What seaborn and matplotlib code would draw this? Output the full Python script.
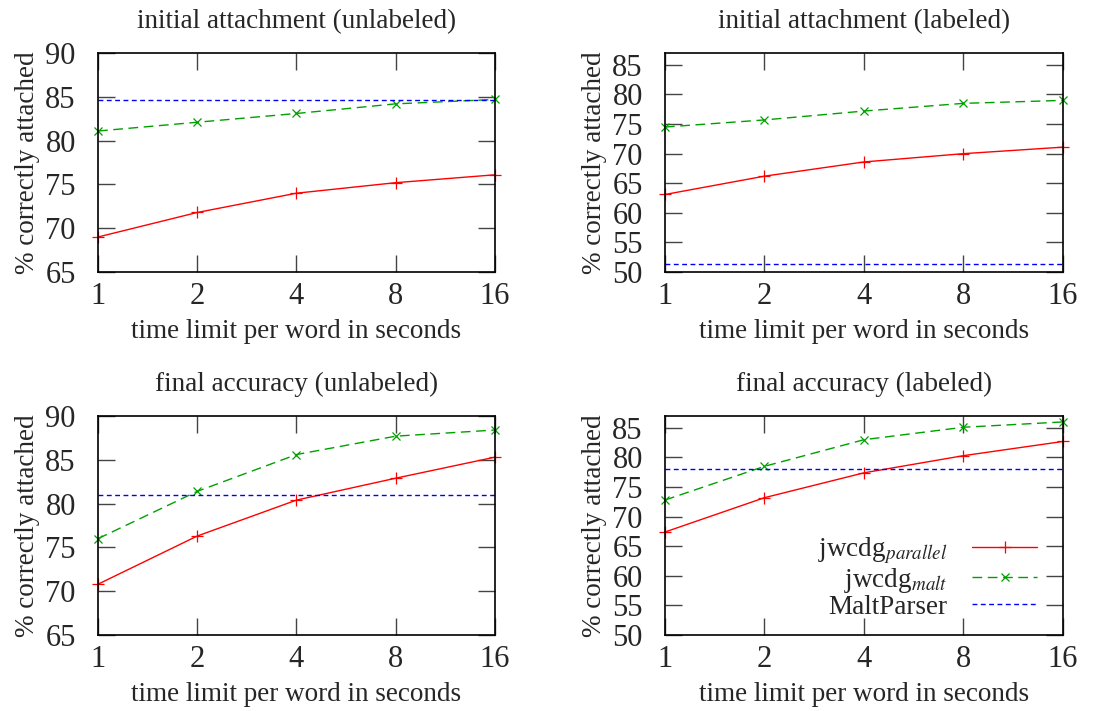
"""
Attachment accuracy vs. time limit per word: jwcdg variants against MaltParser.
"""

import matplotlib
matplotlib.use("Agg")
import matplotlib.pyplot as plt
import matplotlib.ticker as mticker
import pandas as pd
import seaborn as sns

TIME_LIMITS = [1, 2, 4, 8, 16]

PANEL_TITLES = [
    "initial attachment (unlabeled)",
    "initial attachment (labeled)",
    "final accuracy (unlabeled)",
    "final accuracy (labeled)",
]

PARALLEL = [
    [69.0, 71.8, 74.0, 75.2, 76.1],
    [63.1, 66.2, 68.6, 70.0, 71.1],
    [70.8, 76.3, 80.4, 82.9, 85.3],
    [67.4, 73.2, 77.4, 80.3, 82.7],
]
MALT = [
    [81.1, 82.1, 83.1, 84.2, 84.7],
    [74.5, 75.7, 77.2, 78.5, 79.0],
    [76.0, 81.4, 85.6, 87.7, 88.4],
    [72.8, 78.5, 83.0, 85.1, 86.0],
]
MALTPARSER = [84.6, 51.4, 81.0, 78.0]

Y_LIMITS = [(65, 90), (50, 87), (65, 90), (50, 87)]
Y_TICKS = [
    [65, 70, 75, 80, 85, 90],
    [50, 55, 60, 65, 70, 75, 80, 85],
    [65, 70, 75, 80, 85, 90],
    [50, 55, 60, 65, 70, 75, 80, 85],
]

SERIES_LABELS = [r"jwcdg$_{parallel}$", r"jwcdg$_{malt}$", "MaltParser"]

sns.set_style("white")
plt.rcParams["font.family"] = ["Liberation Serif", "DejaVu Serif"]
plt.rcParams["mathtext.fontset"] = "stix"
FS = 19.5
TICK_FS = 22

fig = plt.figure(figsize=(11.18, 7.11), dpi=100)
positions = [
    [0.0877, 0.6174, 0.355, 0.308],
    [0.5948, 0.6174, 0.356, 0.308],
    [0.0877, 0.1069, 0.355, 0.308],
    [0.5948, 0.1069, 0.356, 0.308],
]

for k, pos in enumerate(positions):
    ax = fig.add_axes(pos)
    df = pd.DataFrame({
        "t": TIME_LIMITS * 2,
        "acc": PARALLEL[k] + MALT[k],
        "series": [SERIES_LABELS[0]] * 5 + [SERIES_LABELS[1]] * 5,
    })
    sns.lineplot(data=df[df["series"] == SERIES_LABELS[0]], x="t", y="acc", ax=ax,
                 color="#ff0000", lw=1.0, marker="+", markersize=9, mew=0.9,
                 mec="#ff0000", label=SERIES_LABELS[0], clip_on=False)
    sns.lineplot(data=df[df["series"] == SERIES_LABELS[1]], x="t", y="acc", ax=ax,
                 color="#00a000", lw=1.0, marker="x", markersize=6, mew=0.9,
                 mec="#00a000", label=SERIES_LABELS[1], clip_on=False)
    ax.lines[-1].set_dashes([7, 4])
    ax.axhline(MALTPARSER[k], color="#0000ff", lw=1.0, ls=(0, (3.5, 2.5)),
               label=SERIES_LABELS[2])

    ax.set_xscale("log", base=2)
    ax.set_xlim(1, 16)
    ax.set_xticks(TIME_LIMITS)
    ax.xaxis.set_major_formatter(mticker.FixedFormatter([str(t) for t in TIME_LIMITS]))
    ax.xaxis.set_minor_locator(mticker.NullLocator())
    ax.set_ylim(*Y_LIMITS[k])
    ax.set_yticks(Y_TICKS[k])

    ax.tick_params(axis="both", which="major", direction="in", length=12, width=1,
                   color="#444444", labelsize=TICK_FS, top=True, right=True,
                   bottom=True, left=True)
    ax.tick_params(axis="x", pad=7)
    ax.tick_params(axis="y", pad=16)
    for sp in ax.spines.values():
        sp.set_color("black")
        sp.set_linewidth(1.2)

    ax.set_title(PANEL_TITLES[k], fontsize=FS, pad=18)
    ax.set_ylabel("% correctly attached", fontsize=FS, labelpad=4)
    ax.set_xlabel("time limit per word in seconds", fontsize=FS, labelpad=6)

    if k == 3:
        ax.legend(loc="lower right", frameon=False, fontsize=FS, markerfirst=False,
                  handlelength=2.4, handletextpad=0.9, labelspacing=0.0,
                  borderaxespad=0.0, borderpad=0.0, bbox_to_anchor=(0.935, 0.07))
    else:
        ax.get_legend().remove()

fig.savefig("out.png", dpi=100)
